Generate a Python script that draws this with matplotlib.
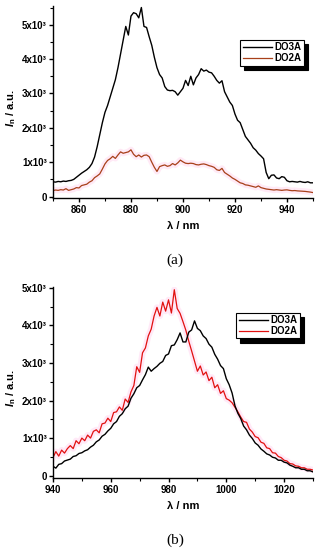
import numpy as np
import matplotlib
matplotlib.use("Agg")
import matplotlib.pyplot as plt
from matplotlib.ticker import MultipleLocator, FuncFormatter

# ---- panel (a) data ----
wl_a = list(range(850, 951))
do3a_a = [430, 420, 440, 430, 450, 440, 460, 470, 500, 560,
          620, 680, 730, 780, 850, 960, 1150, 1450, 1800, 2150,
          2450, 2650, 2900, 3150, 3400, 3750, 4150, 4550, 4950, 4700,
          5250, 5350, 5320, 5200, 5500, 4950, 4920, 4650, 4400, 4050,
          3750, 3550, 3450, 3200, 3100, 3080, 3090, 3050, 2950, 3050,
          3150, 3380, 3230, 3500, 3250, 3450, 3550, 3720, 3650, 3680,
          3620, 3600, 3500, 3380, 3300, 3370, 3050, 2900, 2750, 2650,
          2400, 2220, 2150, 1950, 1750, 1650, 1550, 1420, 1350, 1250,
          1180, 1100, 700, 520, 620, 630, 540, 520, 580, 560,
          460, 430, 440, 430, 420, 440, 420, 410, 430, 400,
          400]
do2a_a = [175, 190, 180, 200, 190, 230, 180, 200, 220, 260,
          250, 320, 340, 360, 420, 460, 550, 600, 660, 800,
          950, 1050, 1100, 1170, 1110, 1210, 1300, 1260, 1280, 1300,
          1360, 1230, 1160, 1210, 1150, 1200, 1210, 1160, 1000, 850,
          730, 870, 900, 920, 880, 900, 960, 920, 980, 1060,
          1010, 970, 960, 970, 960, 930, 920, 940, 950, 930,
          900, 880, 850, 780, 760, 820, 700, 650, 600, 540,
          500, 450, 400, 380, 340, 330, 310, 290, 270, 310,
          260, 240, 220, 210, 200, 190, 200, 190, 180, 190,
          195, 180, 170, 175, 165, 160, 155, 150, 140, 130,
          116]

# ---- panel (b) data ----
wl_b = list(range(940, 1031))
do3a_b = [250, 200, 300, 320, 390, 415, 440, 510, 530, 590,
          610, 660, 690, 760, 810, 900, 950, 1050, 1100, 1190,
          1260, 1380, 1440, 1580, 1650, 1780, 1850, 2060, 2180, 2340,
          2400, 2550, 2690, 2890, 2780, 2850, 2910, 2990, 3040, 3200,
          3240, 3460, 3480, 3620, 3800, 3560, 3560, 3820, 3880, 4120,
          3920, 3860, 3720, 3650, 3500, 3420, 3230, 3100, 2930, 2850,
          2580, 2420, 2200, 1860, 1660, 1520, 1320, 1220, 1080, 990,
          870, 810, 710, 650, 580, 550, 490, 470, 410, 410,
          360, 340, 280, 250, 210, 210, 170, 170, 130, 130,
          100]
do2a_b = [480, 640, 520, 680, 600, 720, 800, 720, 930, 850,
          1000, 930, 1080, 1000, 1180, 1220, 1140, 1380, 1400, 1530,
          1440, 1680, 1700, 1830, 1740, 2040, 1950, 2230, 2400, 2900,
          2750, 3270, 3400, 3720, 3900, 4250, 4480, 4250, 4620, 4380,
          4680, 4330, 4950, 4450, 4320, 4100, 3870, 3580, 3320, 3050,
          2780, 2920, 2680, 2760, 2530, 2620, 2340, 2420, 2190, 2260,
          2050, 2010, 1940, 1820, 1700, 1560, 1440, 1420, 1240, 1160,
          1040, 1010, 890, 860, 740, 720, 610, 600, 510, 480,
          410, 390, 320, 310, 260, 250, 210, 210, 170, 170,
          150]

x_labels = "λ / nm"
y_labels = r"$\mathit{I}_\mathrm{n}$ / a.u."

plt.rcParams['font.family'] = ['Liberation Sans', 'DejaVu Sans']
plt.rcParams['font.weight'] = 'bold'
plt.rcParams['mathtext.fontset'] = 'custom'
plt.rcParams['mathtext.it'] = 'Liberation Sans:italic:bold'
plt.rcParams['mathtext.rm'] = 'Liberation Sans:bold'


def sci_fmt(v, pos):
    if abs(v) < 1:
        return "0"
    return "%dx10³" % int(round(v / 1000))


def style_axes(ax, xlim, ylim, xmajor):
    ax.set_xlim(*xlim)
    ax.set_ylim(*ylim)
    ax.spines['top'].set_visible(False)
    ax.spines['right'].set_visible(False)
    for s in ('left', 'bottom'):
        ax.spines[s].set_linewidth(1.0)
    ax.xaxis.set_major_locator(MultipleLocator(xmajor))
    ax.xaxis.set_minor_locator(MultipleLocator(xmajor / 2))
    ax.yaxis.set_major_locator(MultipleLocator(1000))
    ax.yaxis.set_minor_locator(MultipleLocator(500))
    ax.yaxis.set_major_formatter(FuncFormatter(sci_fmt))
    ax.tick_params(which='major', direction='out', length=3, width=1,
                   labelsize=7, pad=1.5)
    ax.tick_params(which='minor', direction='out', length=2, width=0.8)
    ax.set_xlabel(x_labels, fontsize=8, fontweight='bold', labelpad=5)
    ax.set_ylabel(y_labels, fontsize=8, fontweight='bold')
    ax.yaxis.set_label_coords(-0.135, 0.47)


def add_legend(ax, anchor):
    leg = ax.legend(loc='upper left', bbox_to_anchor=anchor, fontsize=7,
                    frameon=True, fancybox=False, borderpad=0.25,
                    handlelength=3.0, handletextpad=0.3, labelspacing=0.1,
                    borderaxespad=0,
                    shadow={'color': 'black', 'alpha': 1, 'ox': 3, 'oy': -3})
    leg.get_frame().set_edgecolor('black')
    leg.get_frame().set_linewidth(0.8)


fig = plt.figure(figsize=(3.21, 5.5), dpi=100)

# panel (a)
ax1 = fig.add_axes([0.165, 0.6395, 0.81, 0.3487])
ax1.plot(wl_a, do2a_a, color='#ffd6ee', lw=4.5, alpha=0.5, zorder=1)
ax1.plot(wl_a, do3a_a, color='black', lw=1.0, label='DO3A', zorder=3)
ax1.plot(wl_a, do2a_a, color='#a8401a', lw=0.9, label='DO2A', zorder=2)
style_axes(ax1, (850, 950), (-50, 5530), 20)
add_legend(ax1, (0.72, 0.825))

# panel (b)
ax2 = fig.add_axes([0.165, 0.1304, 0.81, 0.3483])
ax2.plot(wl_b, do2a_b, color='#ffd0ee', lw=4.5, alpha=0.45, zorder=1)
ax2.plot(wl_b, do3a_b, color='black', lw=1.0, label='DO3A', zorder=3)
ax2.plot(wl_b, do2a_b, color='#e21010', lw=0.9, label='DO2A', zorder=2)
style_axes(ax2, (940, 1030), (-70, 5030), 20)
add_legend(ax2, (0.705, 0.865))

fig.text(0.545, 1 - 260 / 550, "(a)", ha='center', va='center',
         fontsize=11, fontweight='normal', family='Liberation Serif')
fig.text(0.545, 1 - 540 / 550, "(b)", ha='center', va='center',
         fontsize=11, fontweight='normal', family='Liberation Serif')

fig.savefig("out.png", dpi=100)
